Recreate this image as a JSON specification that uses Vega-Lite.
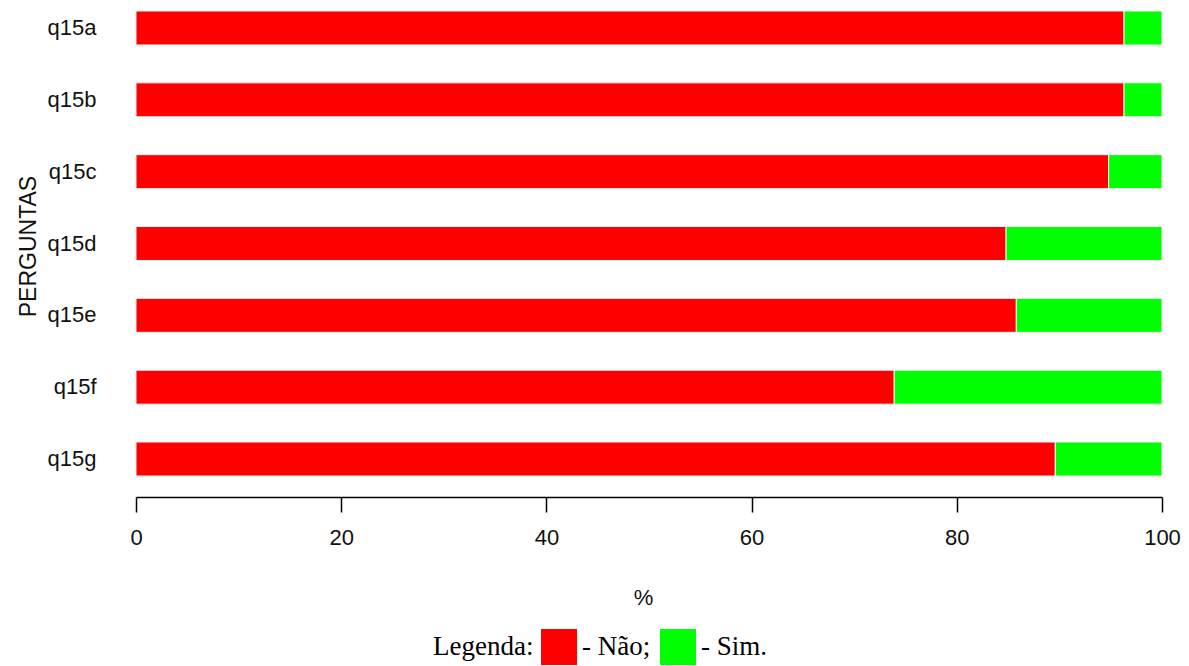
{
  "$schema": "https://vega.github.io/schema/vega-lite/v6.json",
  "autosize": "none",
  "padding": {"left": 136, "top": 0, "right": 27, "bottom": 179},
  "width": 1026,
  "height": 487,
  "background": "white",
  "config": {"view": {"stroke": null}},
  "data": {
    "values": [
      {"pergunta": "q15a", "resposta": "Não", "pct": 96.3},
      {"pergunta": "q15a", "resposta": "Sim", "pct": 3.7},
      {"pergunta": "q15b", "resposta": "Não", "pct": 96.3},
      {"pergunta": "q15b", "resposta": "Sim", "pct": 3.7},
      {"pergunta": "q15c", "resposta": "Não", "pct": 94.8},
      {"pergunta": "q15c", "resposta": "Sim", "pct": 5.2},
      {"pergunta": "q15d", "resposta": "Não", "pct": 84.8},
      {"pergunta": "q15d", "resposta": "Sim", "pct": 15.2},
      {"pergunta": "q15e", "resposta": "Não", "pct": 85.8},
      {"pergunta": "q15e", "resposta": "Sim", "pct": 14.2},
      {"pergunta": "q15f", "resposta": "Não", "pct": 73.9},
      {"pergunta": "q15f", "resposta": "Sim", "pct": 26.1},
      {"pergunta": "q15g", "resposta": "Não", "pct": 89.6},
      {"pergunta": "q15g", "resposta": "Sim", "pct": 10.4}
    ]
  },
  "mark": {"type": "bar", "stroke": "#f4f4f4", "strokeWidth": 1},
  "encoding": {
    "y": {
      "field": "pergunta",
      "type": "nominal",
      "sort": ["q15a", "q15b", "q15c", "q15d", "q15e", "q15f", "q15g"],
      "scale": {"paddingInner": 0.527, "paddingOuter": 0.153},
      "axis": {
        "title": "PERGUNTAS",
        "titleFont": "Liberation Sans",
        "titleFontSize": 23,
        "titleFontWeight": "normal",
        "titleColor": "#111",
        "titleX": -108,
        "titleY": 246,
        "titleAngle": -90,
        "titleAlign": "center",
        "titleBaseline": "middle",
        "domain": false,
        "ticks": false,
        "labelPadding": 40,
        "labelFont": "Liberation Sans",
        "labelFontSize": 22,
        "labelColor": "#111",
        "grid": false
      }
    },
    "x": {
      "field": "pct",
      "type": "quantitative",
      "stack": "zero",
      "scale": {"domain": [0, 100], "nice": false},
      "axis": {
        "title": "%",
        "titleFont": "Liberation Sans",
        "titleFontSize": 22,
        "titleFontWeight": "normal",
        "titleColor": "#111",
        "titleX": 507,
        "titleY": 100,
        "titleAlign": "center",
        "titleBaseline": "middle",
        "values": [0, 20, 40, 60, 80, 100],
        "offset": 10,
        "domainColor": "#000",
        "domainWidth": 1.5,
        "tickColor": "#000",
        "tickWidth": 1.5,
        "tickSize": 15,
        "labelPadding": 15,
        "labelFont": "Liberation Sans",
        "labelFontSize": 22,
        "labelColor": "#111",
        "labelFlush": false,
        "grid": false
      }
    },
    "color": {
      "field": "resposta",
      "type": "nominal",
      "scale": {"domain": ["Não", "Sim"], "range": ["#ff0000", "#00ff00"]},
      "legend": {
        "orient": "none",
        "legendX": 297,
        "legendY": 629,
        "direction": "horizontal",
        "padding": 0,
        "title": "Legenda:",
        "titleOrient": "left",
        "titleFont": "Liberation Serif",
        "titleFontSize": 27,
        "titleFontWeight": "normal",
        "titleColor": "#000",
        "titleBaseline": "middle",
        "titlePadding": 7,
        "symbolType": "square",
        "symbolSize": 1296,
        "symbolStrokeWidth": 0,
        "symbolOpacity": 1,
        "labelFont": "Liberation Serif",
        "labelFontSize": 27,
        "labelColor": "#000",
        "labelOffset": 5,
        "columnPadding": 9,
        "labelExpr": "datum.label == 'Não' ? '- Não;' : '- Sim.'"
      }
    },
    "order": {"field": "resposta", "sort": "ascending"}
  }
}
